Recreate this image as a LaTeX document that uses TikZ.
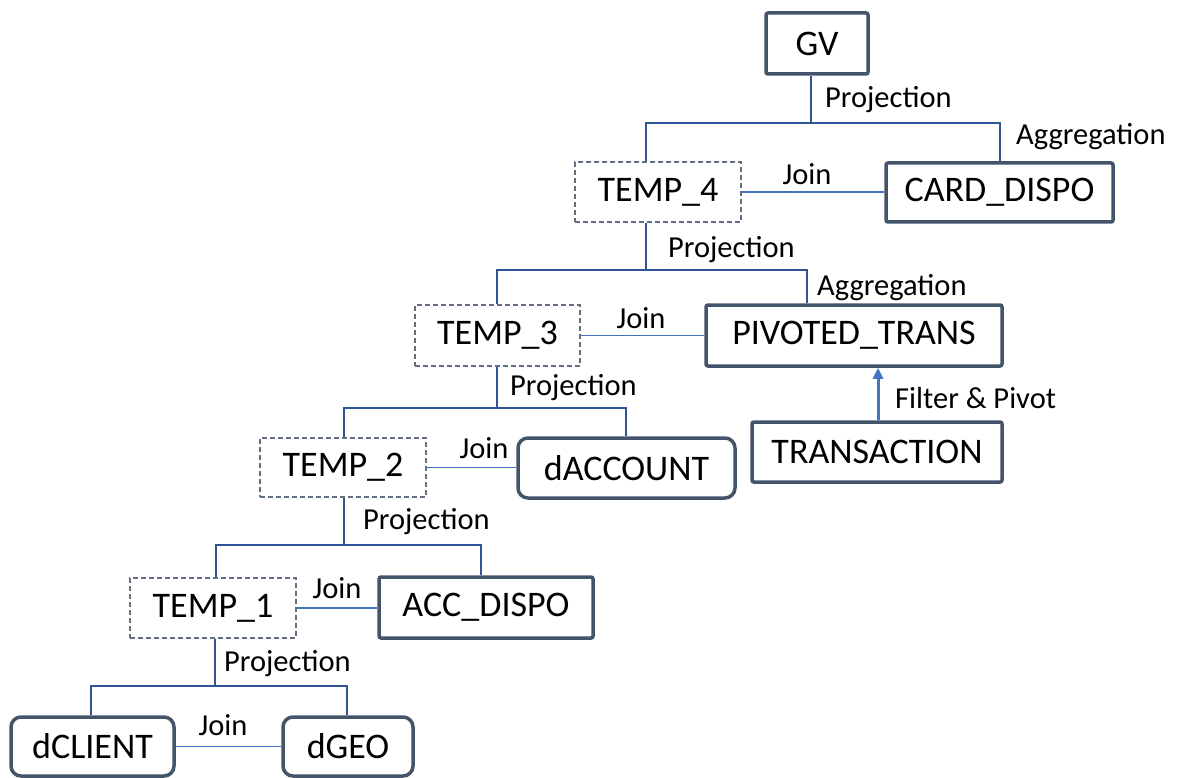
\documentclass[tikz,border=0pt]{standalone}
\usepackage{fontspec}
\setmainfont{Carlito}
\usetikzlibrary{arrows.meta}
\definecolor{boxc}{RGB}{68,84,106}
\definecolor{treec}{RGB}{47,85,151}
\definecolor{joinc}{RGB}{68,114,196}
\definecolor{dashc}{RGB}{100,112,130}
\newcommand{\nodefont}{\fontsize{36}{40}\selectfont}
\newcommand{\lblfont}{\fontsize{30.5}{34}\selectfont}
\begin{document}
\begin{tikzpicture}[x=1pt,y=-1pt,
  box/.style={draw=boxc,line width=3.5pt,rounded corners=2pt,fill=white,font=\nodefont,inner sep=0pt,align=center},
  rbox/.style={box,rounded corners=10pt},
  dbox/.style={draw=dashc,line width=1.3pt,dash pattern=on 5pt off 3pt,fill=white,font=\nodefont,inner sep=0pt},
  tree/.style={draw=treec,line width=2.9pt},
  joinl/.style={draw=joinc,line width=1.6pt},
  arr/.style={draw=joinc,line width=3pt,-{Triangle[length=11pt,width=10pt]}},
  lbl/.style={font=\lblfont,inner sep=0pt,anchor=base west},
  lblc/.style={font=\lblfont,inner sep=0pt,anchor=base}]
\useasboundingbox (0,0) rectangle (1178,778);
\fill[white] (0,0) rectangle (1178,778);

% nodes
\node[box,minimum width=102pt,minimum height=61pt] (GV) at (817,43.5) {GV};
\node[dbox,minimum width=166pt,minimum height=60pt] (T4) at (658,192) {TEMP\_4};
\node[box,minimum width=227pt,minimum height=59pt] (CARD) at (999.5,192.5) {CARD\_DISPO};
\node[dbox,minimum width=165pt,minimum height=61pt] (T3) at (497.5,335.5) {TEMP\_3};
\node[box,minimum width=296pt,minimum height=61pt] (PIV) at (854,335.5) {PIVOTED\_TRANS};
\node[box,minimum width=250pt,minimum height=60pt] (TRANS) at (877,452) {TRANSACTION};
\node[dbox,minimum width=166pt,minimum height=59pt] (T2) at (343,467.5) {TEMP\_2};
\node[rbox,minimum width=217pt,minimum height=60pt] (DACC) at (626.5,468) {dACCOUNT};
\node[dbox,minimum width=166pt,minimum height=60pt] (T1) at (213,608) {TEMP\_1};
\node[box,minimum width=214pt,minimum height=61pt] (ACC) at (486,607.5) {ACC\_DISPO};
\node[rbox,minimum width=163pt,minimum height=59pt] (DCL) at (92.5,746.5) {dCLIENT};
\node[rbox,minimum width=130pt,minimum height=59pt] (DGEO) at (348,746.5) {dGEO};

% junction coordinates
\coordinate (j1) at (811,123);  \coordinate (l1) at (646,123);  \coordinate (r1) at (1000,123);
\coordinate (j2) at (646,270);  \coordinate (l2) at (497,270);  \coordinate (r2) at (807,270);
\coordinate (j3) at (497,408);  \coordinate (l3) at (344,408);  \coordinate (r3) at (626,408);
\coordinate (j4) at (344,545);  \coordinate (l4) at (216,545);  \coordinate (r4) at (481,545);
\coordinate (j5) at (215,686);  \coordinate (l5) at (91,686);   \coordinate (r5) at (347,686);
\coordinate (ax) at (878,0);

% tree connectors
\draw[tree] (GV.south -| j1) -- (j1);
\draw[tree] (T4.north -| l1) -- (l1) -- (r1) -- (CARD.north -| r1);
\draw[tree] (T4.south -| j2) -- (j2);
\draw[tree] (T3.north -| l2) -- (l2) -- (r2) -- (PIV.north -| r2);
\draw[tree] (T3.south -| j3) -- (j3);
\draw[tree] (T2.north -| l3) -- (l3) -- (r3) -- (DACC.north -| r3);
\draw[tree] (T2.south -| j4) -- (j4);
\draw[tree] (T1.north -| l4) -- (l4) -- (r4) -- (ACC.north -| r4);
\draw[tree] (T1.south -| j5) -- (j5);
\draw[tree] (DCL.north -| l5) -- (l5) -- (r5) -- (DGEO.north -| r5);

% join connectors
\draw[joinl] (T4.east) -- (T4.east -| CARD.west);
\draw[joinl] (T3.east) -- (T3.east -| PIV.west);
\draw[joinl] (T2.east) -- (T2.east -| DACC.west);
\draw[joinl] (T1.east) -- (T1.east -| ACC.west);
\draw[joinl] (DCL.east) -- (DCL.east -| DGEO.west);

% arrow
\draw[arr] (TRANS.north -| ax) -- (PIV.south -| ax);

% labels
\node[lbl] (p1) at (825,108) {Projection};
\node[lbl] (a1) at (1016,145) {Aggregation};
\node[lblc] (jn1) at (807,185) {Join};
\node[lbl] (p2) at (668,258) {Projection};
\node[lbl] (a2) at (817,295) {Aggregation};
\node[lblc] (jn2) at (641,328) {Join};
\node[lbl] (p3) at (510,395) {Projection};
\node[lbl] (fp) at (895,408) {Filter \& Pivot};
\node[lblc] (jn3) at (484,458) {Join};
\node[lbl] (p4) at (363,529) {Projection};
\node[lblc] (jn4) at (337,598) {Join};
\node[lbl] (p5) at (224,671) {Projection};
\node[lblc] (jn5) at (223,735) {Join};
\end{tikzpicture}
\end{document}
